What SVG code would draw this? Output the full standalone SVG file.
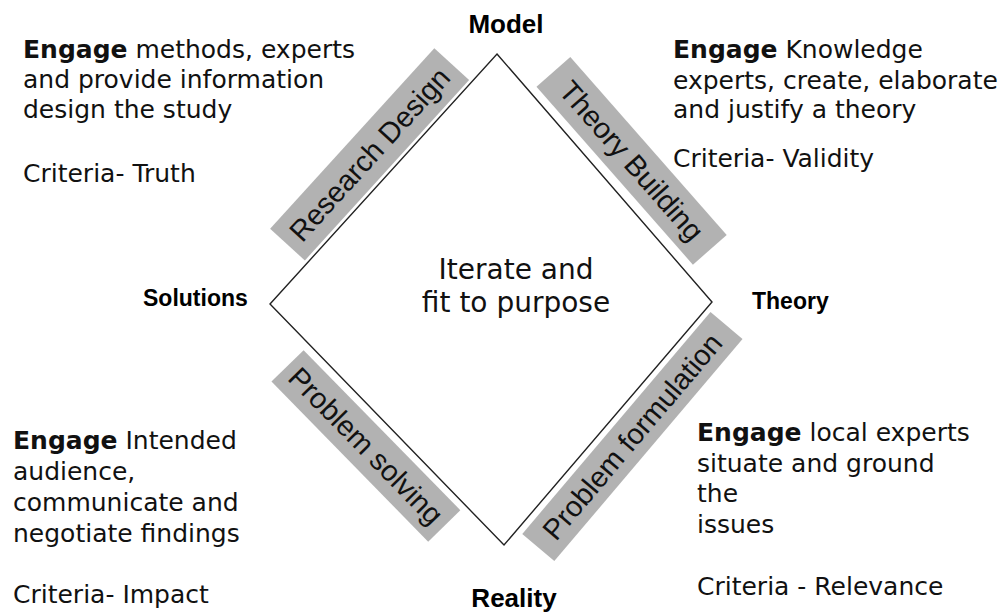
<svg xmlns="http://www.w3.org/2000/svg" width="1008" height="614" viewBox="0 0 1008 614">
<style>
.body{font-family:"DejaVu Sans","Verdana",sans-serif;font-size:25px;fill:#111}
.b{font-weight:bold}
.lab{font-family:"Liberation Sans",Arial,sans-serif;font-weight:bold;font-size:26px;fill:#000;text-anchor:middle}
.lab2{font-family:"Liberation Sans",Arial,sans-serif;font-weight:bold;font-size:23px;fill:#000}
.band{fill:#b2b2b2}
.bt{font-family:"Liberation Sans",Arial,sans-serif;font-size:29px;fill:#111;text-anchor:middle}
.mid{font-family:"DejaVu Sans","Verdana",sans-serif;font-size:28px;fill:#111;text-anchor:middle}
</style>
<rect width="1008" height="614" fill="#fff"/>
<g id="connectors">
<polygon points="497,54 712,302 504,545 270,304" fill="none" stroke="#222" stroke-width="1.4"/>
</g>
<g id="band-research-design" transform="translate(369.6,154.4) rotate(-47.7)">
<rect class="band" x="-122" y="-23.5" width="244" height="47"/>
<text class="bt" x="0" y="10">Research Design</text>
</g>
<g id="band-theory-building" transform="translate(631.6,160.8) rotate(48.7)">
<rect class="band" x="-118.5" y="-22.5" width="237" height="45"/>
<text class="bt" x="0" y="10">Theory Building</text>
</g>
<g id="band-problem-solving" transform="translate(365.9,445.9) rotate(45.6)">
<rect class="band" x="-112" y="-22.5" width="224" height="45"/>
<text class="bt" x="0" y="10">Problem solving</text>
</g>
<g id="band-problem-formulation" transform="translate(632.4,436.5) rotate(-49.7)">
<rect class="band" x="-145.5" y="-21" width="291" height="42"/>
<text class="bt" x="0" y="10">Problem formulation</text>
</g>
<g id="node-model"><text class="lab" x="506" y="33">Model</text></g>
<g id="node-solutions"><text class="lab2" x="143" y="306">Solutions</text></g>
<g id="node-theory"><text class="lab2" x="752" y="309">Theory</text></g>
<g id="node-reality"><text class="lab" x="514" y="607">Reality</text></g>
<g id="node-center"><text class="mid" x="516" y="279">Iterate and</text><text class="mid" x="516" y="312">fit to purpose</text></g>
<g id="text-top-left" class="body">
<text x="23" y="58"><tspan class="b">Engage</tspan> methods, experts</text>
<text x="23" y="88">and provide information</text>
<text x="23" y="118">design the study</text>
<text x="23" y="182">Criteria- Truth</text>
</g>
<g id="text-top-right" class="body">
<text x="673" y="58"><tspan class="b">Engage</tspan> Knowledge</text>
<text x="673" y="89">experts, create, elaborate</text>
<text x="673" y="118">and justify a theory</text>
<text x="673" y="167">Criteria- Validity</text>
</g>
<g id="text-bottom-left" class="body">
<text x="13" y="449"><tspan class="b">Engage</tspan> Intended</text>
<text x="13" y="480">audience,</text>
<text x="13" y="511">communicate and</text>
<text x="13" y="542">negotiate findings</text>
<text x="13" y="603">Criteria- Impact</text>
</g>
<g id="text-bottom-right" class="body">
<text x="697" y="441"><tspan class="b">Engage</tspan> local experts</text>
<text x="697" y="472">situate and ground</text>
<text x="697" y="502">the</text>
<text x="697" y="533">issues</text>
<text x="697" y="595">Criteria - Relevance</text>
</g>
</svg>
